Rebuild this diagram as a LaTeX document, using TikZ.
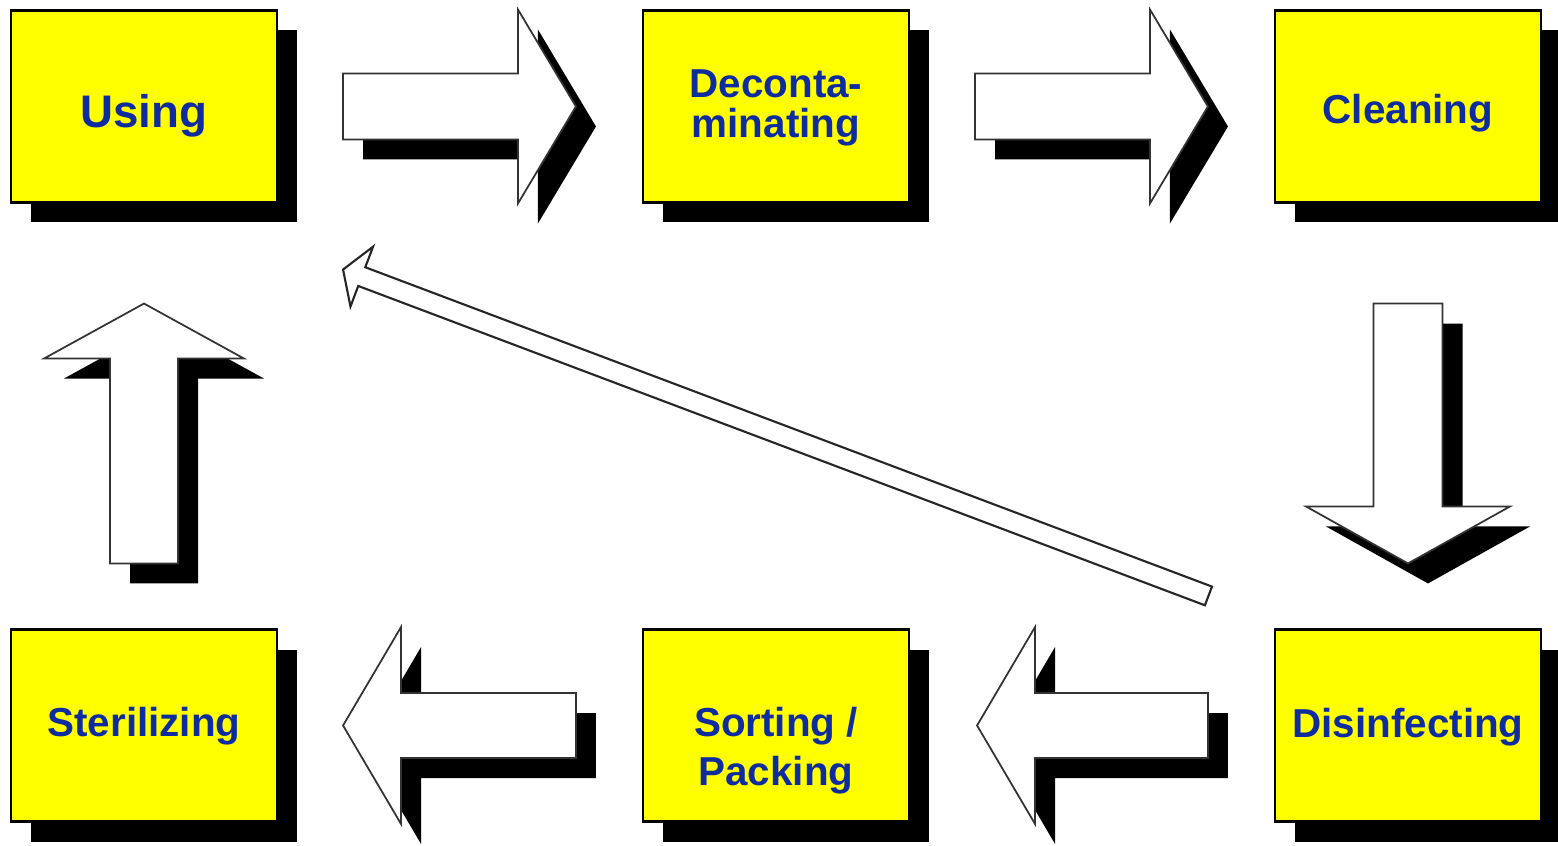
\documentclass[tikz,border=0pt]{standalone}
\usepackage{fontspec}
\setmainfont{Liberation Sans}
\usetikzlibrary{positioning,calc,shadows}

\definecolor{stageyellow}{RGB}{255,255,0}
\definecolor{stageblue}{RGB}{14,44,160}

% fat arrow with flat tail, drawn from tail #2 to tip #3
% #4 half shaft width, #5 half head width, #6 head length
\newcommand{\blockarrow}[6][bigarrow]{%
  \coordinate (hb) at ($(#3)!#6!(#2)$);
  \draw[#1] ($(#2)!#4!90:(#3)$) -- ($(hb)!#4!-90:(#2)$) -- ($(hb)!#5!-90:(#2)$) -- (#3)
    -- ($(hb)!#5!90:(#2)$) -- ($(hb)!#4!90:(#2)$) -- ($(#2)!#4!-90:(#3)$) -- cycle;
}

\begin{document}
\begin{tikzpicture}[node distance=6.32cm,on grid,
  solidshadow/.style={drop shadow={shadow xshift=0.2cm,shadow yshift=-0.2cm,fill=black,opacity=1}},
  stage/.style={draw,line width=0.6pt,fill=stageyellow,solidshadow,minimum width=2.66cm,minimum height=1.92cm,
    inner sep=0pt,align=center,text=stageblue,font=\fontsize{11.5}{13.7}\selectfont\bfseries},
  % last baseline sits half of this below the box centre
  drop/.style={text height=#1,text depth=0pt},
  bigarrow/.style={draw=black!80,line width=0.5pt,fill=white,solidshadow},
  thinarrow/.style={draw=black!85,line width=0.6pt,fill=white}]
  \useasboundingbox (0,0) rectangle (15.58,8.45);

  \node[stage,drop=0.43cm,font=\fontsize{13}{15}\selectfont\bfseries] (using) at (1.44,7.385) {Using};
  \node[stage,drop=0.61cm,font=\fontsize{11.5}{11.1}\selectfont\bfseries] (decon) [right=of using] {Deconta-\\minating};
  \node[stage,drop=0.34cm] (clean)  [right=of decon] {Cleaning};
  \node[stage,drop=0.23cm] (disinf) [below=6.19cm of clean] {Disinfecting};
  \node[stage,drop=1.19cm] (sort)   [left=of disinf] {Sorting /\\Packing};
  \node[stage,drop=0.21cm] (steril) [left=of sort] {Sterilizing};

  % ends of the fat arrows
  \coordinate (t1) at ($(using.east)+(0.65,0)$);
  \coordinate (h1) at ($(decon.west)+(-0.66,0)$);
  \coordinate (t2) at ($(decon.east)+(0.65,0)$);
  \coordinate (h2) at ($(clean.west)+(-0.66,0)$);
  \coordinate (t3) at ($(clean.south)+(0,-1.0)$);
  \coordinate (h3) at ($(disinf.north)+(0,0.65)$);
  \coordinate (t4) at ($(disinf.west)+(-0.66,0)$);
  \coordinate (h4) at ($(sort.east)+(0.67,0)$);
  \coordinate (t5) at ($(sort.west)+(-0.66,0)$);
  \coordinate (h5) at ($(steril.east)+(0.65,0)$);
  \coordinate (t6) at ($(steril.north)+(0,0.65)$);
  \coordinate (h6) at ($(using.south)+(0,-1.0)$);

  \blockarrow{t1}{h1}{0.33cm}{0.97cm}{0.58cm}
  \blockarrow{t2}{h2}{0.33cm}{0.97cm}{0.58cm}
  \blockarrow{t3}{h3}{0.345cm}{1.02cm}{0.57cm}
  \blockarrow{t4}{h4}{0.325cm}{0.985cm}{0.58cm}
  \blockarrow{t5}{h5}{0.325cm}{0.985cm}{0.58cm}
  \blockarrow{t6}{h6}{0.34cm}{1.0cm}{0.55cm}

  % shortcut back to use
  \coordinate (back) at ($(disinf.north west)+(-0.655,0.325)$);
  \coordinate (reuse) at ($(using.south east)+(0.65,-0.66)$);
  \blockarrow[thinarrow]{back}{reuse}{0.1cm}{0.32cm}{0.2cm}
\end{tikzpicture}
\end{document}
